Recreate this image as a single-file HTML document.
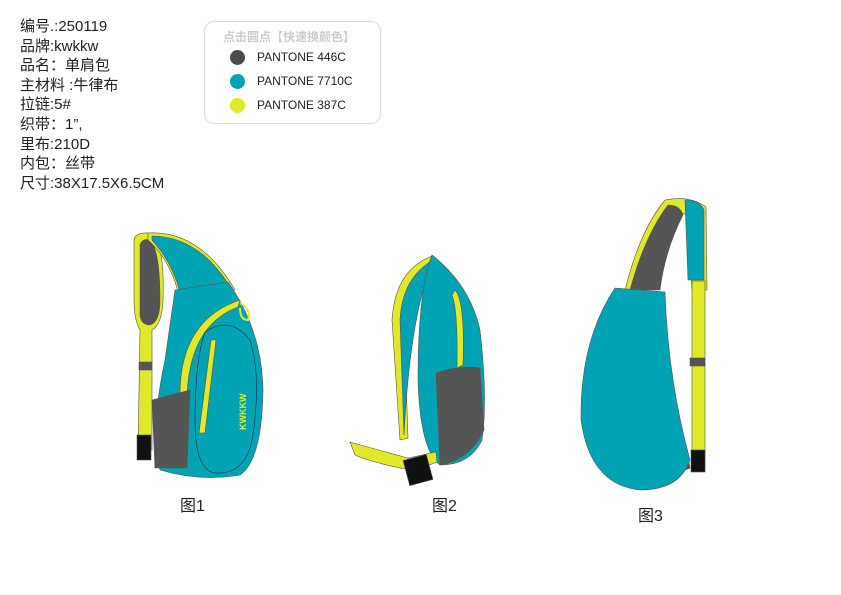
<!DOCTYPE html>
<html><head><meta charset="utf-8"><style>
body{margin:0;width:841px;height:595px;background:#fff;overflow:hidden;position:relative;font-family:"Liberation Sans","Noto Sans CJK SC",sans-serif;}
.info{position:absolute;left:20px;top:17px;font-size:15px;line-height:19.6px;color:#222;}
.pal{position:absolute;left:204px;top:21px;width:177px;height:103px;border:1px solid #ddd;border-radius:10px;box-sizing:border-box;}
.pal .t{position:absolute;left:18px;top:6px;font-size:12px;color:#ccc;font-weight:bold;}
.row{position:absolute;left:25px;font-size:12px;color:#222;}
.row i{display:inline-block;width:15px;height:15px;border-radius:50%;vertical-align:middle;margin-right:12px;}
.cap{position:absolute;font-size:16px;color:#222;}
</style></head><body>
<div class="info">编号.:250119<br>品牌:kwkkw<br>品名：单肩包<br>主材料 :牛律布<br>拉链:5#<br>织带：1”,<br>里布:210D<br>内包：丝带<br>尺寸:38X17.5X6.5CM</div>
<div class="pal"><div class="t">点击圆点【快速换颜色】</div>
<div class="row" style="top:28px"><i style="background:#4a4d4f"></i>PANTONE 446C</div>
<div class="row" style="top:52px"><i style="background:#00a3b4"></i>PANTONE 7710C</div>
<div class="row" style="top:76px"><i style="background:#e0e82a"></i>PANTONE 387C</div>
</div>
<svg width="841" height="595" style="position:absolute;left:0;top:0" stroke="#555" stroke-width="0.6">
<!-- bag1 -->
<path d="M134,240 Q135,232 150,233 Q165,240 163,300 Q162,325 152,330 L152,450 L138,452 L140,330 Q134,320 134,300 Z" fill="#e0e82a"/>
<path d="M140,245 Q142,238 150,240 Q160,250 160,300 Q160,322 150,325 Q141,325 140,315 Z" fill="#555"/>
<rect x="139" y="362" width="13" height="8" fill="#555"/>
<rect x="137" y="435" width="14" height="25" fill="#111"/>
<path d="M148,233 Q200,230 235,290 L178,292 Q170,260 148,240 Z" fill="#e0e82a"/>
<path d="M152,236 Q200,236 232,290 L180,292 Q172,262 152,240 Z" fill="#00a3b4"/>
<path d="M175,290 L228,282 Q262,330 263,390 Q262,460 240,475 Q200,482 160,470 Q150,430 165,360 Z" fill="#00a3b4"/>
<path d="M180,395 Q180,320 240,300 L238,307 Q190,325 187,395 Z" fill="#e0e82a"/>
<path d="M152,400 L190,390 L187,468 L155,468 Z" fill="#555"/>
<path d="M205,332 Q230,315 250,340 Q262,380 252,440 Q245,475 215,473 Q195,470 195,420 Q195,360 205,332 Z" fill="none" stroke="#225"/>
<path d="M211,340 L216,340 L205,433 L199,433 Z" fill="#e0e82a"/>
<path d="M240,303 Q252,310 248,320 Q240,320 240,308" fill="none" stroke="#e0e82a" stroke-width="2"/>
<text x="246" y="430" font-size="9" fill="#e0e82a" stroke="none" transform="rotate(-90 246 430)" font-family="Liberation Sans" font-weight="bold">KWKKW</text>
<!-- bag2 -->
<path d="M432,256 Q395,270 392,320 L400,440 L408,438 L404,320 Q408,280 432,262 Z" fill="#e0e82a"/>
<path d="M430,262 Q402,280 400,320 L404,435 Q410,320 430,270 Z" fill="#00a3b4"/>
<path d="M432,255 Q470,285 480,330 Q488,400 482,440 Q470,465 440,465 Q420,450 418,380 Q418,290 432,255 Z" fill="#00a3b4"/>
<path d="M455,290 Q465,300 463,365 L457,368 Q458,310 452,295 Z" fill="#e0e82a"/>
<path d="M436,373 Q460,365 480,368 L484,430 Q470,460 440,465 Z" fill="#555"/>
<path d="M350,442 Q360,445 408,458 L410,470 Q370,462 355,455 Z" fill="#e0e82a"/>
<path d="M408,458 L436,452 L437,462 L410,472 Z" fill="#e0e82a"/>
<rect x="406" y="457" width="24" height="26" fill="#111" transform="rotate(-15 418 470)"/>
<!-- bag3 -->
<path d="M625,290 Q640,230 665,200 Q690,195 706,207 L707,290 L692,290 L687,215 Q675,210 668,215 Q645,250 640,290 Z" fill="#e0e82a"/>
<path d="M630,290 Q645,235 668,205 Q680,205 683,215 Q665,250 660,290 Z" fill="#555"/>
<path d="M685,200 Q700,200 704,210 L704,280 L688,280 Z" fill="#00a3b4"/>
<rect x="692" y="281" width="13" height="190" fill="#e0e82a"/>
<rect x="690" y="358" width="15" height="8" fill="#555"/>
<rect x="691" y="450" width="14" height="22" fill="#111"/>
<path d="M670,400 Q685,440 690,468 L685,470 Q675,430 668,405 Z" fill="#555"/>
<path d="M615,288 L665,292 Q668,380 690,460 Q680,490 640,490 Q590,485 581,420 Q580,340 615,288 Z" fill="#00a3b4"/>
</svg>
<div class="cap" style="left:180px;top:492px">图1</div>
<div class="cap" style="left:432px;top:492px">图2</div>
<div class="cap" style="left:638px;top:502px">图3</div>
</body></html>
